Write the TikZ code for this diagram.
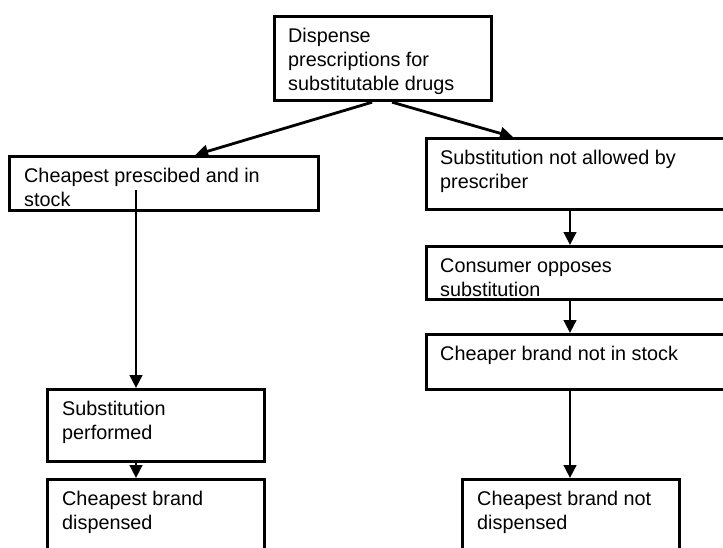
\documentclass[tikz,border=0pt]{standalone}
\usepackage{fontspec}
\setmainfont{Liberation Sans}
\usetikzlibrary{arrows.meta}

\begin{document}
\begin{tikzpicture}[
  x=1pt, y=-1pt,
  box/.style={draw, line width=3.2pt, anchor=north west, inner sep=0pt},
  txt/.style={anchor=north west, align=left, inner sep=0pt,
              font=\fontsize{19.8}{24}\selectfont},
  arr/.style={-{Triangle[length=13pt, width=12.5pt]}, line width=2.8pt},
]
\useasboundingbox (0,0) rectangle (723,547);
\clip (0,0) rectangle (723,547);

% ---------------- Start ----------------
\node[box, minimum width=217pt, minimum height=84pt] (disp) at (273,15) {};
\node[txt] (disp-t) at ([xshift=15pt, yshift=-10pt]disp.north west)
  {\strut Dispense\\prescriptions for\\substitutable drugs};

% ---------------- Left branch ----------------
\node[box, minimum width=309pt, minimum height=54pt] (cheap) at (8,155) {};
\node[box, minimum width=217pt, minimum height=72pt] (perf)  at (46,388) {};
\node[box, minimum width=217pt, minimum height=100pt] (given) at (46,478) {};

\node[txt] (cheap-t) at ([xshift=16pt, yshift=-10pt]cheap.north west)
  {\strut Cheapest prescibed and in\\stock};
\node[txt] (perf-t)  at ([xshift=16pt, yshift=-10pt]perf.north west)
  {\strut Substitution\\performed};
\node[txt] (given-t) at ([xshift=16pt, yshift=-10pt]given.north west)
  {\strut Cheapest brand\\dispensed};

% ---------------- Right branch ----------------
\node[box, minimum width=310pt, minimum height=71pt] (notall)   at (425,137) {};
\node[box, minimum width=310pt, minimum height=53pt] (oppose)   at (425,245) {};
\node[box, minimum width=310pt, minimum height=55pt] (nostock)  at (425,333) {};
\node[box, minimum width=217pt, minimum height=100pt] (notgiven) at (461,478) {};

\node[txt] (notall-t)   at ([xshift=15pt, yshift=-10pt]notall.north west)
  {\strut Substitution not allowed by\\prescriber};
\node[txt] (oppose-t)   at ([xshift=15pt, yshift=-10pt]oppose.north west)
  {\strut Consumer opposes\\substitution};
\node[txt] (nostock-t)  at ([xshift=15pt, yshift=-10pt]nostock.north west)
  {\strut Cheaper brand not in stock};
\node[txt] (notgiven-t) at ([xshift=16pt, yshift=-10pt]notgiven.north west)
  {\strut Cheapest brand not\\dispensed};

% ---------------- Arrows ----------------
\draw[arr] ([xshift=-11pt]disp.south) -- ([xshift=31pt]cheap.north);
\draw[arr] ([xshift=9pt]disp.south)   -- ([xshift=88pt]notall.north west);

\draw[arr] ([xshift=128pt, yshift=-35pt]cheap.north west) -- ([xshift=90pt]perf.north west);
\draw[arr] ([xshift=90pt]perf.south west) -- ([xshift=90pt]given.north west);

\draw[arr] ([xshift=145pt]notall.south west)  -- ([xshift=145pt]oppose.north west);
\draw[arr] ([xshift=145pt]oppose.south west)  -- ([xshift=145pt]nostock.north west);
\draw[arr] ([xshift=145pt]nostock.south west) -- ([xshift=109pt]notgiven.north west);

\end{tikzpicture}
\end{document}
